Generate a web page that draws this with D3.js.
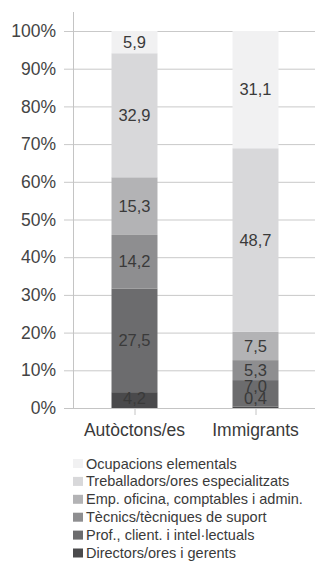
<!DOCTYPE html>
<html>
<head>
<meta charset="utf-8">
<script src="https://cdn.jsdelivr.net/npm/d3@7"></script>
<style>
  body { margin: 0; background: #fff; }
  svg text { font-family: "Liberation Sans", Arial, sans-serif; }
</style>
</head>
<body>
<div class="canvas"></div>
<script>
const groups = ['Autòctons/es', 'Immigrants'];
// bottom to top
const categories = [
  'Directors/ores i gerents',
  'Prof., client. i intel·lectuals',
  'Tècnics/tècniques de suport',
  'Emp. oficina, comptables i admin.',
  'Treballadors/ores especialitzats',
  'Ocupacions elementals'
];
const autoctons = [4.2, 27.5, 14.2, 15.3, 32.9, 5.9];
const immigrants = [0.4, 7.0, 5.3, 7.5, 48.7, 31.1];
const yTicks = [0, 10, 20, 30, 40, 50, 60, 70, 80, 90, 100];
const colors = ['#4a4a4c', '#6c6c6e', '#8e8e90', '#b3b3b5', '#d8d8da', '#f1f1f2'];

const width = 315, height = 564;
const svg = d3.select('.canvas').append('svg')
  .attr('width', width)
  .attr('height', height);

const y = d3.scaleLinear().domain([0, 100]).range([408, 31]);
const x = d3.scaleBand()
  .domain(groups)
  .range([74, 316])
  .paddingInner(0.62)
  .paddingOuter(0.31);

// gridlines
svg.append('g').selectAll('line')
  .data(yTicks)
  .enter().append('line')
  .attr('x1', 64).attr('x2', width)
  .attr('y1', d => y(d) + 0.5).attr('y2', d => y(d) + 0.5)
  .attr('stroke', '#c9c9c9').attr('stroke-width', 1);

// y axis line
svg.append('line')
  .attr('x1', 73.5).attr('x2', 73.5)
  .attr('y1', 12).attr('y2', y(0))
  .attr('stroke', '#c4c4c4');

// y tick labels
svg.append('g').selectAll('text')
  .data(yTicks)
  .enter().append('text')
  .attr('x', 56)
  .attr('y', d => y(d))
  .attr('dy', '0.35em')
  .attr('text-anchor', 'end')
  .attr('font-size', 17.5)
  .attr('fill', '#444')
  .text(d => d + '%');

// stack
const rows = groups.map((g, i) => {
  const vals = i === 0 ? autoctons : immigrants;
  const row = { group: g };
  categories.forEach((c, j) => row[c] = vals[j]);
  return row;
});
const series = d3.stack().keys(categories)(rows);

const layers = svg.append('g').selectAll('g')
  .data(series)
  .enter().append('g')
  .attr('fill', (d, i) => colors[i]);

layers.selectAll('rect')
  .data(d => d)
  .enter().append('rect')
  .attr('x', d => x(d.data.group))
  .attr('y', d => y(d[1]))
  .attr('width', x.bandwidth())
  .attr('height', d => y(d[0]) - y(d[1]));

// value labels, with a simple overlap pass from the bottom up
groups.forEach(g => {
  let prev = null;
  series.forEach(s => {
    const d = s.find(e => e.data.group === g);
    let cy = Math.min((y(d[0]) + y(d[1])) / 2, y(0) - 10);
    if (prev !== null && prev - cy < 11.5) cy = prev - 11.5;
    prev = cy;
    svg.append('text')
      .attr('x', x(g) + x.bandwidth() / 2)
      .attr('y', cy)
      .attr('dy', '0.35em')
      .attr('text-anchor', 'middle')
      .attr('font-size', 16.5)
      .attr('fill', '#3a3a3a')
      .text(d3.format('.1f')(d.data[s.key]).replace('.', ','));
  });
});

// x axis
svg.append('line')
  .attr('x1', 64).attr('x2', width)
  .attr('y1', y(0) + 0.5).attr('y2', y(0) + 0.5)
  .attr('stroke', '#c4c4c4');

const xg = svg.append('g').selectAll('g')
  .data(groups)
  .enter().append('g')
  .attr('transform', d => `translate(${x(d) + x.bandwidth() / 2}, 0)`);
xg.append('line')
  .attr('x1', 0.5).attr('x2', 0.5)
  .attr('y1', y(0)).attr('y2', y(0) + 7)
  .attr('stroke', '#c4c4c4');
xg.append('text')
  .attr('y', 436)
  .attr('text-anchor', 'middle')
  .attr('font-size', 17.5)
  .attr('fill', '#3a3a3a')
  .text(d => d);

// legend (top to bottom)
const legendItems = categories.map((c, i) => ({ name: c, color: colors[i] })).reverse();
const legend = svg.append('g').selectAll('g')
  .data(legendItems)
  .enter().append('g')
  .attr('transform', (d, i) => `translate(73, ${463.5 + i * 17.9})`);
legend.append('rect')
  .attr('x', 0).attr('y', -4.5)
  .attr('width', 10).attr('height', 9)
  .attr('fill', d => d.color);
legend.append('text')
  .attr('x', 13)
  .attr('dy', '0.35em')
  .attr('font-size', 14.5)
  .attr('fill', '#3a3a3a')
  .text(d => d.name);
</script>
</body>
</html>
